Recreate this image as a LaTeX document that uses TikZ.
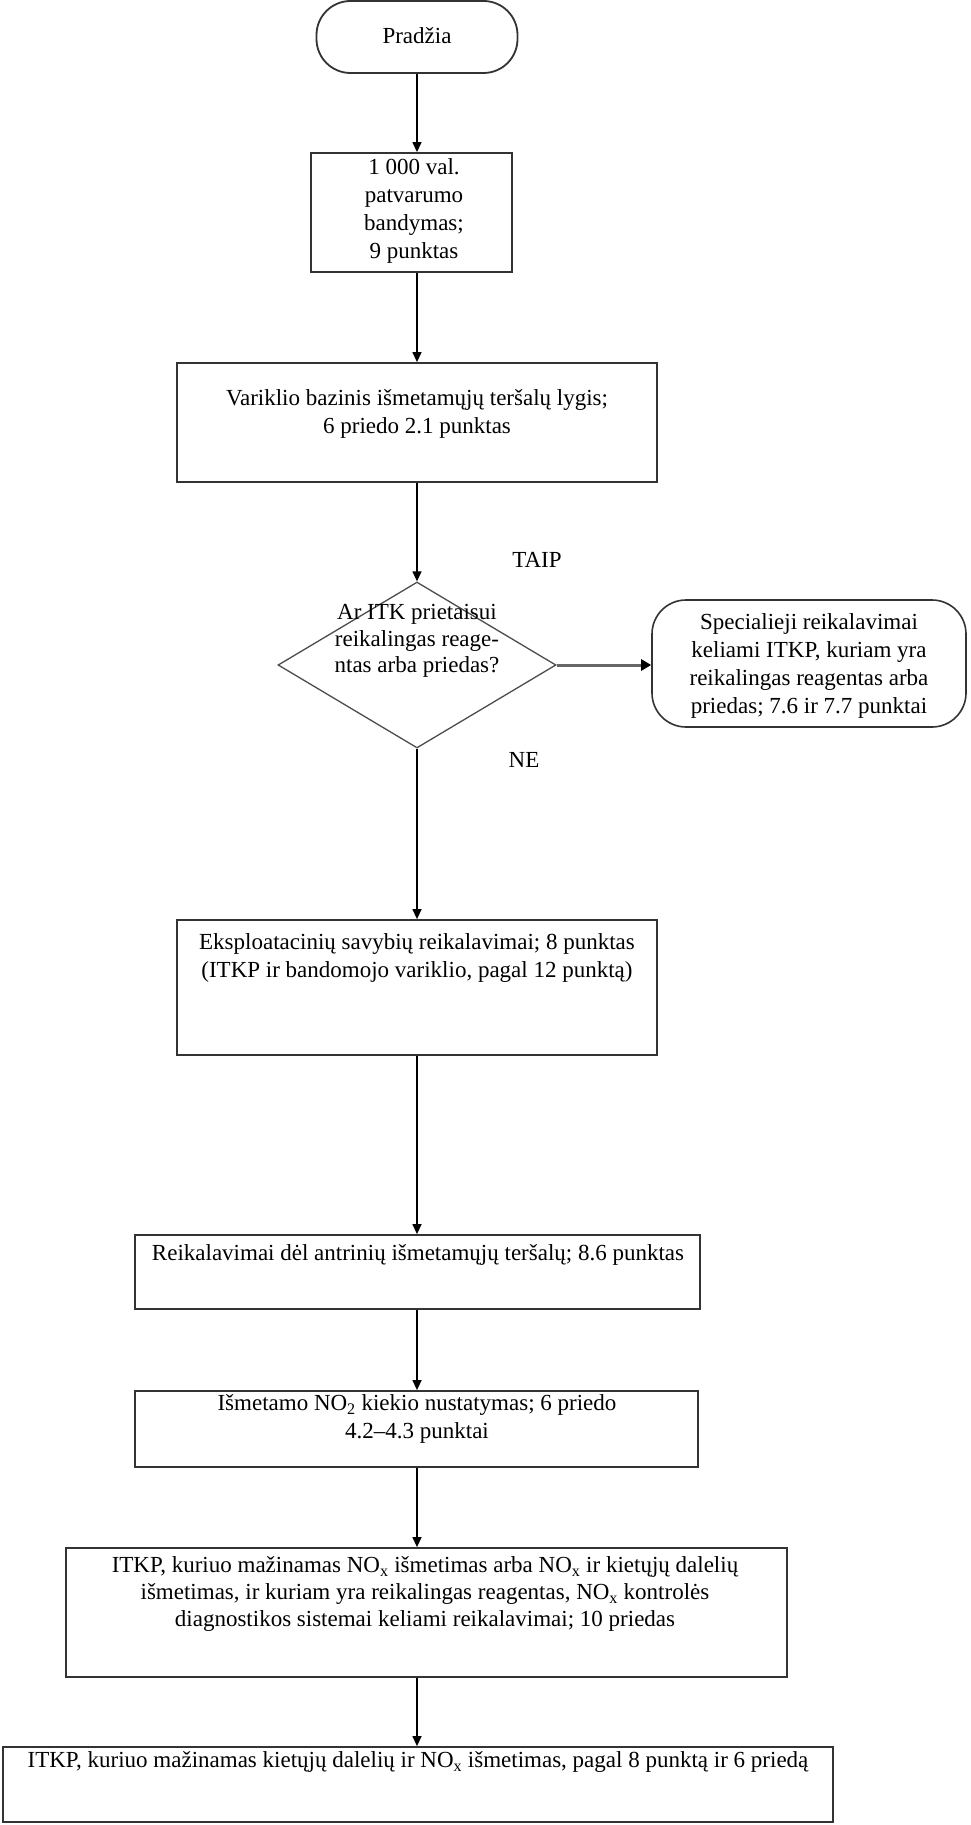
\documentclass[tikz,border=0pt]{standalone}
\usepackage{fontspec}
\setmainfont{Liberation Serif}
\usetikzlibrary{arrows.meta,shapes.geometric}
\begin{document}
\begin{tikzpicture}[x=1pt,y=-1pt,
  box/.style={draw=black!80, line width=1.8pt, inner sep=0pt, rectangle, fill=white},
  txt/.style={align=center, inner sep=0pt, font=\fontsize{23}{28}\selectfont},
  arr/.style={-{Triangle[width=9pt,length=10pt]}, line width=1.3pt, black},
  lbl/.style={inner sep=0pt, font=\fontsize{23}{28}\selectfont},
]
\useasboundingbox[fill=white] (0,0) rectangle (971,1825);
% boxes
\node[box, rounded corners=34pt, minimum width=201pt, minimum height=72pt] (start) at (417,37) {};
\node[box, minimum width=201pt, minimum height=119pt] (b1) at (411.5,212.5) {};
\node[box, minimum width=480pt, minimum height=119pt] (b2) at (417,422.5) {};
\node[draw=black!70, line width=1.3pt, diamond, minimum width=278pt, minimum height=166pt, inner sep=0pt] (dec) at (417,665) {};
\node[box, rounded corners=34pt, line width=1.6pt, minimum width=314pt, minimum height=127pt] (spec) at (809,663.5) {};
\node[box, minimum width=480pt, minimum height=135pt] (b3) at (417,987.5) {};
\node[box, minimum width=565pt, minimum height=74pt] (b4) at (417.5,1272) {};
\node[box, minimum width=563pt, minimum height=76pt] (b5) at (416.5,1429) {};
\node[box, minimum width=721pt, minimum height=129pt] (b6) at (426.5,1612.5) {};
\node[box, minimum width=830pt, minimum height=75pt] (b7) at (418,1784.5) {};
% texts
\node[txt] (t0) at (417,36) {Pradžia};
\node[txt] (t1) at (414,211) {1 000 val.\\patvarumo\\bandymas;\\9 punktas};
\node[txt] (t2) at (417,414) {Variklio bazinis išmetamųjų teršalų lygis;\\6 priedo 2.1 punktas};
\node[txt, font=\fontsize{23}{26.5}\selectfont] (td) at (417,641) {Ar ITK prietaisui\\reikalingas reage-\\ntas arba priedas?};
\node[txt] (ts) at (809,666) {Specialieji reikalavimai\\keliami ITKP, kuriam yra\\reikalingas reagentas arba\\priedas; 7.6 ir 7.7 punktai};
\node[txt] (t3) at (417,958) {Eksploatacinių savybių reikalavimai; 8 punktas\\(ITKP ir bandomojo variklio, pagal 12 punktą)};
\node[txt] (t4) at (418,1255) {Reikalavimai dėl antrinių išmetamųjų teršalų; 8.6 punktas};
\node[txt] (t5) at (417,1419) {Išmetamo NO\textsubscript{2} kiekio nustatymas; 6 priedo\\4.2--4.3 punktai};
\node[txt, font=\fontsize{23}{27}\selectfont] (t6) at (425,1594) {ITKP, kuriuo mažinamas NO\textsubscript{x} išmetimas arba NO\textsubscript{x} ir kietųjų dalelių\\išmetimas, ir kuriam yra reikalingas reagentas, NO\textsubscript{x} kontrolės\\diagnostikos sistemai keliami reikalavimai; 10 priedas};
\node[txt] (t7) at (418,1762) {ITKP, kuriuo mažinamas kietųjų dalelių ir NO\textsubscript{x} išmetimas, pagal 8 punktą ir 6 priedą};
\node[lbl] (taip) at (537,560) {TAIP};
\node[lbl] (ne) at (524,760) {NE};
% connectors
\draw[arr] (start.south) -- (start.south |- b1.north);
\draw[arr] (start.south |- b1.south) -- (b2.north);
\draw[arr] (b2.south) -- (dec.north);
\draw[line width=3pt, draw=black!60, -{Triangle[width=11pt,length=10pt,color=black]}] (dec.east) -- (dec.east -| spec.west);
\draw[arr] (dec.south) -- (b3.north);
\draw[arr] (b3.south) -- (b3.south |- b4.north);
\draw[arr] (b3.south |- b4.south) -- (b3.south |- b5.north);
\draw[arr] (b3.south |- b5.south) -- (b3.south |- b6.north);
\draw[arr] (b3.south |- b6.south) -- (b3.south |- b7.north);
\end{tikzpicture}
\end{document}
